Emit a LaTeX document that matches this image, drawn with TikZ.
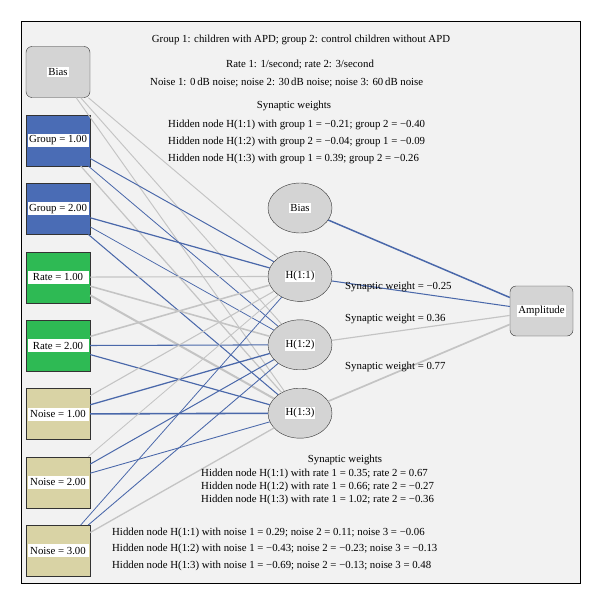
\documentclass[tikz,border=0pt]{standalone}
\usepackage{fontspec}
\setmainfont{Liberation Serif}
\usetikzlibrary{shapes.geometric, positioning}
\definecolor{bggray}{RGB}{242, 242, 242}
\definecolor{nodegray}{RGB}{212, 212, 212}
\definecolor{grpblue}{RGB}{74, 108, 181}
\definecolor{rategreen}{RGB}{46, 186, 84}
\definecolor{noisetan}{RGB}{217, 211, 165}
\definecolor{wblue}{RGB}{74, 104, 170}
\definecolor{wgray}{RGB}{196, 196, 196}

\tikzset{
  inbox/.style={draw=black!80, minimum width=64pt, minimum height=51pt, inner sep=0pt},
  biasbox/.style={inbox, fill=nodegray, rounded corners=6pt},
  hidnode/.style={ellipse, draw=black!80, fill=nodegray, minimum width=64pt, minimum height=50pt, inner sep=0pt},
  tag/.style={fill=white, inner sep=1pt, font=\fontsize{10.8}{12}\selectfont},
  widetag/.style={tag, minimum width=61pt, minimum height=13pt},
  wtext/.style={font=\fontsize{10.8}{12}\selectfont, inner sep=0pt}
}

\begin{document}
\begin{tikzpicture}[x=1pt, y=-1pt]
  \useasboundingbox (0,0) rectangle (600,604);
  \draw[fill=bggray, line width=0.8pt] (21,21) rectangle (580,583);

  % Input layer
  \node[biasbox, label={[tag]center:Bias}] (ibias) at (58,72) {};
  \node[inbox, fill=grpblue, below=17pt of ibias, label={[widetag]center:Group = 1.00}] (g1) {};
  \node[inbox, fill=grpblue, below=17pt of g1, label={[widetag]center:Group = 2.00}] (g2) {};
  \node[inbox, fill=rategreen, below=17pt of g2, label={[widetag]center:Rate = 1.00}] (r1) {};
  \node[inbox, fill=rategreen, below=17pt of r1, label={[widetag]center:Rate = 2.00}] (r2) {};
  \node[inbox, fill=noisetan, below=17pt of r2, label={[widetag]center:Noise = 1.00}] (n1) {};
  \node[inbox, fill=noisetan, below=17pt of n1, label={[widetag]center:Noise = 2.00}] (n2) {};
  \node[inbox, fill=noisetan, below=17pt of n2, label={[widetag]center:Noise = 3.00}] (n3) {};

  % Hidden layer
  \node[hidnode, label={[tag]center:Bias}] (hbias) at (300,208) {};
  \node[hidnode, below=18pt of hbias, label={[tag]center:H(1:1)}] (h1) {};
  \node[hidnode, below=18pt of h1, label={[tag]center:H(1:2)}] (h2) {};
  \node[hidnode, below=18pt of h2, label={[tag]center:H(1:3)}] (h3) {};

  % Output layer
  \node[biasbox, minimum width=63pt, minimum height=50pt, label={[tag]center:Amplitude}] (amp) at (541.5,311) {};

  % Synaptic weights (blue < 0, gray > 0)
  \foreach \src/\dst/\w in {ibias/h1/0.2, ibias/h2/0.2, ibias/h3/0.2,
      g1/h1/-0.21, g1/h2/-0.09, g1/h3/0.39,
      g2/h1/-0.40, g2/h2/-0.04, g2/h3/-0.26,
      r1/h1/0.35, r1/h2/0.66, r1/h3/1.02,
      r2/h1/0.67, r2/h2/-0.27, r2/h3/-0.36,
      n1/h1/0.29, n1/h2/-0.43, n1/h3/-0.69,
      n2/h1/0.11, n2/h2/-0.23, n2/h3/-0.13,
      n3/h1/-0.06, n3/h2/-0.13, n3/h3/0.48,
      hbias/amp/-0.6, h1/amp/-0.25, h2/amp/0.36, h3/amp/0.77} {
    \pgfmathsetmacro\lw{0.7+1.3*abs(\w)}
    \pgfmathtruncatemacro\isneg{\w<0}
    \ifnum\isneg=1 \def\lncol{wblue}\else\def\lncol{wgray}\fi
    \draw[\lncol, line width=\lw pt] (\src) -- (\dst);
  }

  % Legend text
  \node[wtext] (tgroup) at (301,40) {Group 1: children with APD; group 2: control children without APD};
  \node[wtext] (trate) at (300,65) {Rate 1: 1/second; rate 2: 3/second};
  \node[wtext, anchor=west] (tnoise) at (150,83) {Noise 1: 0\,dB noise; noise 2: 30\,dB noise; noise 3: 60\,dB noise};
  \node[wtext] (tsyn1) at (294,106) {Synaptic weights};
  \node[wtext, anchor=west] (tg1) at (168,125) {Hidden node H(1:1) with group 1 = −0.21; group 2 = −0.40};
  \node[wtext, anchor=west] (tg2) at (168,142) {Hidden node H(1:2) with group 2 = −0.04; group 1 = −0.09};
  \node[wtext, anchor=west] (tg3) at (168,159) {Hidden node H(1:3) with group 1 = 0.39; group 2 = −0.26};

  \node[wtext, anchor=west] (tw1) at (345,287) {Synaptic weight = −0.25};
  \node[wtext, anchor=west] (tw2) at (345,319) {Synaptic weight = 0.36};
  \node[wtext, anchor=west] (tw3) at (345,367) {Synaptic weight = 0.77};

  \node[wtext] (tsyn2) at (345,460) {Synaptic weights};
  \node[wtext, anchor=west] (tr1) at (201,474) {Hidden node H(1:1) with rate 1 = 0.35; rate 2 = 0.67};
  \node[wtext, anchor=west] (tr2) at (201,487) {Hidden node H(1:2) with rate 1 = 0.66; rate 2 = −0.27};
  \node[wtext, anchor=west] (tr3) at (201,500) {Hidden node H(1:3) with rate 1 = 1.02; rate 2 = −0.36};
  \node[wtext, anchor=west] (tn1) at (112,533) {Hidden node H(1:1) with noise 1 = 0.29; noise 2 = 0.11; noise 3 = −0.06};
  \node[wtext, anchor=west] (tn2) at (112,549) {Hidden node H(1:2) with noise 1 = −0.43; noise 2 = −0.23; noise 3 = −0.13};
  \node[wtext, anchor=west] (tn3) at (112,566) {Hidden node H(1:3) with noise 1 = −0.69; noise 2 = −0.13; noise 3 = 0.48};
\end{tikzpicture}
\end{document}
